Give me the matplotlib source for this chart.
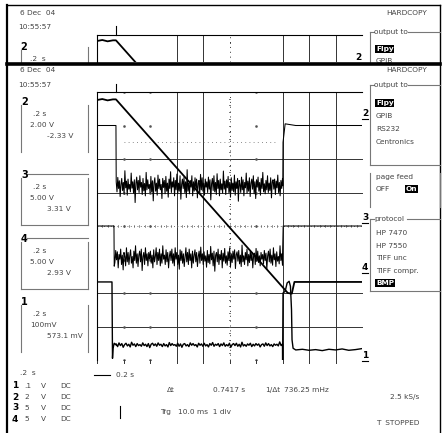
import matplotlib.pyplot as plt
import numpy as np

# scope settings: 0.2 s/div, 10 div across, 8 div high
t_div = 0.2
n_xdiv = 10
n_ydiv = 8

# channel 2 (ramp) in divisions
ch2_t = [0.0, 0.04, 0.08, 0.12, 0.143, 1.44, 1.47, 1.49, 2.0]
ch2_v = [7.76, 7.79, 7.75, 7.78, 7.78, 2.0, 1.98, 2.33, 2.33]

# channel 3 (noisy, upper)
ch3_pre_t = [0.0, 0.143, 0.144]
ch3_pre_v = [7.0, 7.0, 5.6]
ch3_post_t = [1.402, 1.404, 1.42, 1.5, 2.0]
ch3_post_v = [5.2, 6.5, 7.05, 7.0, 7.0]
ch3_level = 5.2
ch3_noise = [0.12, -0.18, 0.25, -0.08, 0.15, -0.32, 0.05, 0.22, -0.14, 0.1, -0.25, 0.45,
             -0.06, 0.14, -0.28, 0.2, -0.1, 0.04, -0.18, 0.38, -0.07, 0.12, -0.22, 0.18,
             -0.5, 0.08, 0.26, -0.12, 0.16, -0.2, 0.3, -0.04, 0.1, -0.26, 0.22, -0.15,
             0.07, -0.3, 0.4, -0.12, 0.18, -0.08, 0.04, -0.22, 0.28, -0.18, 0.15, -0.45,
             0.1, 0.24, -0.16, 0.08, -0.28, 0.32, -0.08, 0.2, -0.12, 0.04, -0.38, 0.22,
             -0.05, 0.16, -0.24, 0.28, -0.16, 0.08, -0.34, 0.2, -0.08, 0.42, -0.2, 0.12,
             -0.04, 0.24, -0.3, 0.16, -0.12, 0.35, -0.24, 0.08, -0.16, 0.3, -0.4, 0.04,
             0.2, -0.08, 0.25, -0.2, 0.12, -0.35, 0.48, -0.16, 0.08, -0.24, 0.16, -0.04,
             0.3, -0.3, 0.12, -0.16, 0.24, -0.08, 0.2, -0.36, 0.08, 0.16, -0.24, 0.34,
             -0.12, 0.24, -0.16, 0.08, -0.28, 0.2, -0.04, 0.12, -0.2, 0.26, -0.1, 0.18,
             -0.42, 0.06, 0.22, -0.14, 0.3, -0.18, 0.1, -0.26, 0.36, -0.08, 0.16, -0.3,
             0.2, -0.12, 0.06, -0.22, 0.44, -0.1, 0.14, -0.26, 0.18, -0.06, 0.28, -0.2,
             0.1, -0.34, 0.24, -0.14, 0.08, -0.18, 0.32, -0.28, 0.12, -0.08, 0.22, -0.46,
             0.16, 0.04, -0.2, 0.26, -0.12, 0.18, -0.3, 0.1, -0.06, 0.38, -0.22, 0.14,
             -0.16, 0.24, -0.32, 0.08, 0.2, -0.1, 0.3, -0.24, 0.12, -0.38, 0.18, -0.04,
             0.26, -0.16, 0.1, -0.28, 0.22, -0.08, 0.4, -0.18, 0.06, -0.24, 0.16, -0.12,
             0.3, -0.2, 0.08, -0.14, 0.24, -0.36, 0.12, 0.18, -0.1, 0.2, -0.26, 0.14,
             -0.06, 0.32, -0.2, 0.1, -0.3, 0.16, -0.08, 0.22]

# channel 4 (noisy, middle)
ch4_pre_t = [0.0, 0.128, 0.13]
ch4_pre_v = [4.0, 4.0, 2.8]
ch4_post_t = [1.40, 1.405, 1.42, 2.0]
ch4_post_v = [3.05, 4.0, 4.0, 4.0]
ch4_level = 3.05
ch4_noise = [-0.14, 0.22, -0.06, 0.18, -0.3, 0.1, -0.04, 0.26, -0.2, 0.08, -0.36, 0.16,
             0.04, -0.24, 0.3, -0.12, 0.16, -0.2, 0.06, 0.24, -0.16, 0.04, -0.3, 0.2,
             -0.08, 0.36, -0.16, 0.12, -0.26, 0.08, 0.2, -0.12, 0.26, -0.38, 0.04, 0.16,
             -0.2, 0.3, -0.08, 0.12, -0.24, 0.16, -0.04, 0.2, -0.16, 0.08, -0.3, 0.24,
             -0.12, 0.04, 0.3, -0.2, 0.16, -0.08, 0.26, -0.24, 0.12, -0.16, 0.36, -0.04,
             0.08, -0.2, 0.24, -0.12, 0.16, -0.3, 0.04, 0.2, -0.08, 0.26, -0.16, 0.12,
             -0.24, 0.3, -0.04, 0.16, -0.2, 0.08, -0.34, 0.24, -0.08, 0.2, -0.16, 0.12,
             -0.26, 0.04, 0.3, -0.12, 0.16, -0.2, 0.26, -0.08, 0.12, -0.3, 0.2, -0.16,
             0.08, 0.24, -0.12, 0.16, -0.26, 0.04, 0.2, -0.16, 0.32, -0.08, 0.12, -0.2,
             0.18, -0.1, 0.06, -0.28, 0.22, -0.14, 0.1, -0.18, 0.34, -0.06, 0.14, -0.24,
             0.2, -0.4, 0.08, 0.16, -0.12, 0.26, -0.2, 0.1, -0.06, 0.22, -0.3, 0.14,
             -0.1, 0.28, -0.16, 0.06, -0.22, 0.18, -0.08, 0.3, -0.26, 0.12, -0.14, 0.2,
             -0.04, 0.24, -0.32, 0.1, 0.18, -0.1, 0.22, -0.18, 0.08, -0.26, 0.38, -0.12,
             0.06, -0.2, 0.16, -0.06, 0.26, -0.24, 0.1, -0.14, 0.2, -0.08, 0.16, -0.3,
             0.06, 0.14, -0.2, 0.28, -0.1, 0.2, -0.14, 0.06, -0.24, 0.16, -0.04, 0.1,
             -0.18, 0.22, -0.08, 0.14, -0.34, 0.06, 0.2, -0.12, 0.26, -0.16, 0.08, -0.22,
             0.3, -0.06, 0.12, -0.26, 0.18, -0.1, 0.04, -0.18, 0.36, -0.08, 0.12, -0.22]

# channel 1 (current, bottom)
ch1_pre_t = [0.0, 0.113, 0.117, 0.121, 0.13, 0.143]
ch1_pre_v = [2.33, 2.33, 0.05, 0.35, 0.5, 0.45]
ch1_post_t = [1.400, 1.401, 1.404, 1.42, 1.435, 1.45, 1.46, 1.468, 1.472, 1.48, 1.50,
              1.55, 1.6, 1.65, 1.7, 1.75, 1.8, 1.85, 1.9, 1.95, 2.0]
ch1_post_v = [0.45, 0.0, 2.0, 2.05, 2.3, 2.35, 2.2, 1.5, 0.6, 0.35, 0.3,
              0.32, 0.29, 0.31, 0.28, 0.32, 0.3, 0.33, 0.29, 0.31, 0.34]
ch1_level = 0.45
ch1_noise = [0.03, -0.05, 0.06, -0.02, 0.04, -0.07, 0.01, 0.05, -0.03, 0.02, -0.06, 0.08,
             -0.01, 0.03, -0.05, 0.04, -0.02, 0.01, -0.04, 0.06, -0.02, 0.02, -0.05, 0.04,
             -0.08, 0.02, 0.05, -0.02, 0.03, -0.04, 0.06, -0.01, 0.02, -0.05, 0.04, -0.03,
             0.01, -0.06, 0.07, -0.02, 0.04, -0.01, 0.01, -0.04, 0.05, -0.04, 0.03, -0.07,
             0.02, 0.04, -0.03, 0.01, -0.05, 0.06, -0.01, 0.04, -0.02, 0.01, -0.06, 0.05,
             -0.01, 0.03, -0.04, 0.05, -0.03, 0.01, -0.06, 0.04, -0.01, 0.07, -0.04, 0.02,
             -0.01, 0.04, -0.05, 0.03, -0.02, 0.06, -0.04, 0.01, -0.03, 0.05, -0.07, 0.01,
             0.04, -0.02, 0.05, -0.04, 0.02, -0.06, 0.08, -0.03, 0.01, -0.04, 0.03, -0.01,
             0.05, -0.05, 0.02, -0.03, 0.04, -0.01, 0.03, -0.06, 0.01, 0.03, -0.04, 0.06,
             -0.02, 0.04, -0.03, 0.01, -0.05, 0.03, -0.01, 0.02, -0.03, 0.09, -0.02, 0.03]

# side panel texts
ch_boxes = [('2', ['.2 s', '2.00 V', '-2.33 V']),
            ('3', ['.2 s', '5.00 V', '3.31 V']),
            ('4', ['.2 s', '5.00 V', '2.93 V']),
            ('1', ['.2 s', '100mV', '573.1 mV'])]
ch_rows = [('1', '.1', 'V', 'DC'), ('2', '2', 'V', 'DC'), ('3', '5', 'V', 'DC'), ('4', '5', 'V', 'DC')]
output_items = ['Flpy', 'GPIB', 'RS232', 'Centronics']
protocol_items = ['HP 7470', 'HP 7550', 'TIFF unc', 'TIFF compr.', 'BMP']

W, H = 443, 433
fig = plt.figure(figsize=(W / 100, H / 100), dpi=100)
bg = fig.add_axes([0, 0, 1, 1])
bg.set_xlim(0, W)
bg.set_ylim(H, 0)
bg.axis('off')

txt = dict(fontsize=5.3, color='#444444', family='DejaVu Sans', va='center', ha='left')
big = dict(fontsize=7, color='black', fontweight='bold', va='center', ha='left')
inv = dict(fontsize=5.3, color='white', fontweight='bold', va='center', ha='left',
           bbox=dict(facecolor='black', edgecolor='none', pad=0.6))
box_c = '#777777'


def px_axes(x0, y0, x1, y1):
    return fig.add_axes([x0 / W, 1 - y1 / H, (x1 - x0) / W, (y1 - y0) / H])


def draw_grid(a, hlines, full_h=True):
    solid_v = [3, 4, 7, 8, 9]
    dot_v = [1, 2, 6]
    for d in solid_v:
        a.axvline(d * t_div, color='#333333', lw=0.7)
    a.axvline(5 * t_div, color='#333333', lw=0.7, ls=(0, (1, 4)))
    for d in hlines:
        a.axhline(d, color='#333333', lw=0.7, clip_on=False)
    if full_h:
        a.axhline(4, color='#444444', lw=0.6, ls=(0, (1, 3)))
        for k in range(n_xdiv * 5 + 1):
            a.plot([k * t_div / 5] * 2, [3.97, 4.03], color='#666666', lw=0.5)
        for k in range(n_ydiv * 5 + 1):
            a.plot([5 * t_div - 0.005, 5 * t_div + 0.005], [k / 5] * 2, color='#555555', lw=0.6)
        for d in dot_v:
            for h in range(n_ydiv + 1):
                a.plot(d * t_div, h, marker='s', ms=0.8, color='#555555')
        for d in range(n_xdiv):
            a.plot([d * t_div] * 2, [-0.1, 0.0], color='#333333', lw=0.7, clip_on=False)
        a.plot([0.2, 1.36], [6.5, 6.5], color='#666666', lw=0.6, ls=(0, (1, 4)))
    a.spines['left'].set_linewidth(0.8)
    a.spines['top'].set_linewidth(0.8)
    for s in ['right', 'bottom']:
        a.spines[s].set_visible(False)
    a.set_xticks([])
    a.set_yticks([])
    a.set_xlim(0, n_xdiv * t_div)


def noisy(level, noise, t0, t1):
    tt = np.linspace(t0, t1, len(noise))
    return tt, level + np.array(noise)


# main screen
ax = px_axes(97, 92, 362, 360)
ax.set_facecolor('none')
draw_grid(ax, [6, 5, 2, 1])
ax.set_ylim(0, n_ydiv)

ax.plot(ch2_t, ch2_v, color='black', lw=1.3)

t3, v3 = noisy(ch3_level, ch3_noise, 0.145, 1.40)
ax.plot(ch3_pre_t + list(t3) + ch3_post_t, ch3_pre_v + list(v3) + ch3_post_v,
        color='black', lw=0.75)
t4, v4 = noisy(ch4_level, ch4_noise, 0.135, 1.40)
ax.plot(ch4_pre_t + list(t4) + ch4_post_t, ch4_pre_v + list(v4) + ch4_post_v,
        color='black', lw=0.75)
t1, v1 = noisy(ch1_level, ch1_noise, 0.145, 1.40)
ax.plot(ch1_pre_t + list(t1) + ch1_post_t, ch1_pre_v + list(v1) + ch1_post_v,
        color='black', lw=1.0)
ax.plot([0.143, 0.143], [8.0, 8.25], color='black', lw=0.8, clip_on=False)

# top strip (zoom of ch2)
ax0 = px_axes(97, 35, 362, 62)
ax0.set_facecolor('none')
draw_grid(ax0, [], full_h=False)
ax0.plot([5 * t_div] * 2, [7.7, 7.74], color='#333333', lw=0.6)
ax0.set_ylim(7.13, 7.94)
ax0.plot(ch2_t, ch2_v, color='black', lw=1.3)
ax0.plot([0.143, 0.143], [7.94, 8.2], color='black', lw=0.8, clip_on=False)

# frame and separator
bg.plot([7.5, 440], [5, 5], color='black', lw=1.0)
bg.plot([7.5, 7.5], [5, H], color='black', lw=1.6)
bg.plot([440, 440], [5, H], color='black', lw=1.0)
bg.plot([7.5, 440], [63.5, 63.5], color='black', lw=2.6, zorder=5)

# top section left
bg.text(20, 13, '6 Dec  04', **txt)
bg.text(18, 27, '10:55:57', **txt)
bg.text(20, 47, '2', **big)
bg.plot([21, 21], [50, 63], color=box_c, lw=0.8)
bg.plot([88, 88], [47, 63], color=box_c, lw=0.8)
bg.text(30, 59, '.2  s', **txt)

# main left
bg.text(20, 70, '6 Dec  04', **txt)
bg.text(18, 85, '10:55:57', **txt)
box_tops = [102, 175, 239, 302]
for (lab, lines), y0 in zip(ch_boxes, box_tops):
    y1 = y0 + 50
    bg.text(21, y0, lab, **big)
    bg.plot([21.5, 21.5], [y0 + 3, y1], color=box_c, lw=0.8)
    bg.plot([88, 88], [y0 + 3, y1], color=box_c, lw=0.8)
    if lab in ('3', '4'):
        bg.plot([27, 88], [y0 - 1, y0 - 1], color=box_c, lw=0.8)
        bg.plot([21.5, 88], [y1, y1], color=box_c, lw=0.8)
    bg.text(33, y0 + 12, lines[0], **txt)
    bg.text(30, y0 + 23, lines[1], **txt)
    bg.text(47, y0 + 34, lines[2], **txt)

bg.text(20, 373, '.2  s', **txt)
for i, (n, v, u, c) in enumerate(ch_rows):
    y = 386 + i * 11
    bg.text(12, y, n, **dict(big, fontsize=6.5))
    bg.text(24, y, v, **txt)
    bg.text(41, y, u, **txt)
    bg.text(60, y, c, **txt)

# bottom centre readouts
bg.plot([94, 110], [375, 375], color='black', lw=0.8)
bg.text(116, 375, '0.2 s', **txt)
bg.text(167, 390, '\u0394t', **txt)
bg.text(213, 390, '0.7417 s', **txt)
bg.text(265, 390, '1/\u0394t', **txt)
bg.text(284, 390, '736.25 mHz', **txt)
bg.plot([120, 120], [406, 418], color='black', lw=0.8)
bg.text(160, 412, 'Trg   10.0 ms  1 div', **txt)
bg.text(390, 397, '2.5 kS/s', **txt)
bg.text(376, 423, 'T  STOPPED', **txt)

# right panel, top section
bg.text(386, 13, 'HARDCOPY', **txt)
bg.plot([370, 370], [32, 63], color=box_c, lw=0.8)
bg.plot([370, 374], [32, 32], color=box_c, lw=0.8)
bg.plot([408, 440], [32, 32], color=box_c, lw=0.8)
bg.text(374, 32, 'output to', **txt)
bg.text(376, 49, output_items[0], **inv)
bg.text(376, 61, output_items[1], **txt)
bg.text(355, 57, '2', **dict(big, fontsize=6.5))

# right panel, main
bg.text(386, 70, 'HARDCOPY', **txt)
bg.plot([370, 370], [85, 165], color=box_c, lw=0.8)
bg.plot([370, 440], [165, 165], color=box_c, lw=0.8)
bg.plot([370, 374], [85, 85], color=box_c, lw=0.8)
bg.plot([408, 440], [85, 85], color=box_c, lw=0.8)
bg.text(374, 85, 'output to', **txt)
for i, it in enumerate(output_items):
    bg.text(376, 103 + i * 13, it, **(inv if i == 0 else txt))

bg.plot([370, 370], [173, 207], color=box_c, lw=0.8)
bg.plot([440, 440], [173, 207], color=box_c, lw=0.8)
bg.text(376, 177, 'page feed', **txt)
bg.text(376, 189, 'OFF', **txt)
bg.text(406, 189, 'On', **inv)

bg.plot([370, 370], [219, 291], color=box_c, lw=0.8)
bg.plot([370, 440], [291, 291], color=box_c, lw=0.8)
bg.plot([370, 374], [219, 219], color=box_c, lw=0.8)
bg.plot([407, 440], [219, 219], color=box_c, lw=0.8)
bg.text(374, 219, 'protocol', **txt)
for i, it in enumerate(protocol_items):
    bg.text(376, 233 + i * 12.5, it, **(inv if i == len(protocol_items) - 1 else txt))

# channel markers at right edge of screen
for lab, y in [('2', 114), ('3', 218), ('4', 268), ('1', 356)]:
    bg.text(362, y, lab, **dict(big, fontsize=6.5))
    bg.plot([362, 368], [y + 5, y + 5], color='black', lw=0.8)

fig.savefig('out.png', dpi=100)
